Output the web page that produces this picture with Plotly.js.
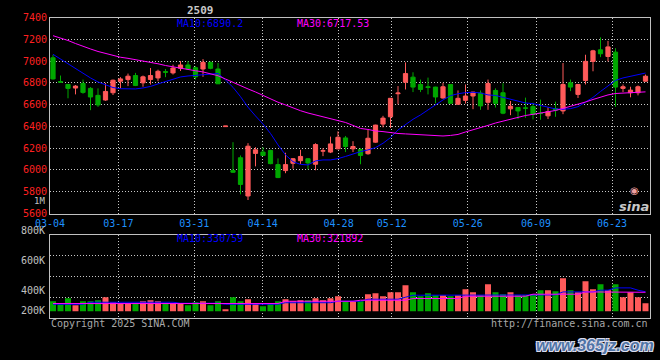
<!DOCTYPE html>
<html><head><meta charset="utf-8">
<script src="https://cdn.plot.ly/plotly-3.0.1.min.js"></script>
<style>html,body{margin:0;padding:0;background:#000;}#chart{width:660px;height:360px;}</style>
</head><body><div id="chart"></div>
<script>
// ---------- data ----------
const contract = '2509';
const dates = ['03-04','03-05','03-06','03-07','03-10','03-11','03-12','03-13','03-14','03-17','03-18','03-19','03-20','03-21','03-24','03-25','03-26','03-27','03-28','03-31',
'04-01','04-02','04-03','04-07','04-08','04-09','04-10','04-11','04-14','04-15','04-16','04-17','04-18','04-21','04-22','04-23','04-24','04-25','04-28','04-29','04-30',
'05-06','05-07','05-08','05-09','05-12','05-13','05-14','05-15','05-16','05-19','05-20','05-21','05-22','05-23','05-26','05-27','05-28','05-29','05-30',
'06-03','06-04','06-05','06-06','06-09','06-10','06-11','06-12','06-13','06-16','06-17','06-18','06-19','06-20','06-23','06-24','06-25','06-26','06-27','06-30'];
const open  = [7030,6812,6785,6752,6794,6749,6685,6642,6709,6815,6830,6867,6800,6830,6845,6903,6891,6933,6964,6939,
6927,6988,6927,6398,5994,6112,5761,6152,6164,6179,6049,5994,6061,6085,6103,6052,6173,6164,6194,6294,6194,
6188,6149,6255,6421,6488,6700,6806,6852,6785,6764,6761,6661,6785,6603,6639,6679,6706,6621,6730,
6709,6561,6573,6570,6582,6521,6497,6564,6542,6800,6694,6821,6997,7103,7042,7082,6749,6709,6709,6815];
const high  = [7058,6867,6790,6779,6830,6761,6749,6800,6830,6852,6885,6891,6867,6936,6921,6927,6967,7000,7000,6952,
7018,6995,6982,6403,6255,6133,6246,6209,6209,6185,6106,6158,6110,6185,6110,6245,6200,6306,6355,6312,6264,
6200,6367,6415,6497,6661,6770,6988,6897,6830,6848,6764,6800,6788,6730,6785,6718,6730,6830,6749,
6797,6633,6576,6664,6618,6646,6576,6627,6982,6830,6788,7058,7103,7218,7185,7118,6785,6764,6776,6876];
const low   = [6830,6800,6658,6694,6700,6549,6579,6635,6688,6749,6770,6770,6764,6785,6815,6852,6876,6909,6918,6830,
6855,6925,6791,6398,5973,5776,5724,6033,6130,6052,5925,5970,6012,6055,6006,5997,6127,6155,6190,6164,6164,
6052,6140,6250,6391,6385,6603,6739,6715,6715,6694,6612,6655,6606,6600,6610,6558,6552,6552,6573,
6512,6503,6467,6479,6464,6461,6467,6488,6512,6724,6661,6785,6906,7036,6997,6579,6715,6667,6685,6809];
const close = [6836,6806,6749,6770,6712,6670,6597,6721,6824,6836,6861,6776,6855,6867,6906,6897,6936,6964,6927,6855,
6988,6933,6791,6403,5979,5867,6218,6185,6133,6058,5930,6049,6103,6124,6064,6233,6176,6239,6300,6215,6215,
6133,6291,6412,6476,6658,6706,6885,6761,6739,6758,6670,6764,6612,6658,6679,6715,6588,6794,6612,
6521,6585,6542,6567,6509,6518,6536,6549,6785,6761,6785,6997,7094,7067,7130,6761,6764,6733,6764,6861];
const ma10 = [7062,7019,6973,6927,6886,6845,6808,6780,6757,6746,6744,6744,6753,6767,6790,6812,6835,6854,6863,6868,
6872,6877,6886,6826,6759,6673,6576,6496,6422,6335,6230,6138,6076,6051,6046,6083,6092,6092,6104,6124,
6147,6168,6184,6205,6245,6297,6367,6420,6465,6505,6551,6603,6643,6682,6700,6710,6713,6707,6689,6684,
6666,6647,6629,6615,6609,6592,6574,6560,6557,6563,6581,6620,6666,6721,6774,6822,6845,6858,6875,6890];
const ma30 = [7233,7214,7189,7161,7134,7111,7088,7070,7048,7035,7025,7014,7001,6989,6975,6959,6946,6932,6920,6911,
6900,6884,6865,6835,6803,6771,6744,6716,6684,6652,6622,6597,6569,6544,6523,6505,6491,6473,6454,6436,
6409,6381,6372,6358,6352,6340,6335,6331,6326,6321,6317,6312,6312,6317,6326,6349,6367,6386,6409,6431,
6450,6468,6487,6500,6511,6523,6530,6546,6565,6583,6601,6624,6647,6670,6689,6702,6706,6709,6713,6717];
const volume = [170000,114000,221000,102000,170000,170000,187000,238000,153000,131000,131000,141000,170000,187000,170000,141000,131000,131000,102000,153000,
170000,102000,170000,34000,238000,170000,204000,131000,85000,131000,170000,204000,170000,187000,187000,221000,187000,221000,255000,170000,170000,
170000,289000,306000,255000,323000,323000,442000,323000,255000,306000,272000,272000,255000,272000,374000,323000,272000,459000,323000,
289000,323000,272000,272000,289000,357000,357000,340000,561000,357000,323000,510000,374000,459000,357000,459000,238000,323000,238000,136000];
const volMa10 = [119000,119000,119000,119000,119000,153000,153000,153000,153000,153000,153000,153000,153000,153000,153000,153000,153000,136000,136000,136000,
136000,136000,136000,119000,119000,119000,119000,119000,119000,119000,119000,145000,145000,145000,145000,145000,145000,145000,170000,170000,170000,
170000,204000,204000,204000,204000,204000,238000,272000,272000,272000,272000,284000,284000,284000,284000,284000,284000,284000,284000,
284000,284000,284000,284000,277000,277000,277000,277000,328000,328000,328000,328000,328000,357000,357000,396000,396000,396000,357000,330759];
const volMa30 = [131000,131000,131000,131000,131000,131000,131000,131000,131000,131000,131000,131000,131000,131000,131000,131000,131000,131000,131000,131000,
131000,131000,131000,131000,131000,131000,131000,131000,131000,131000,131000,170000,170000,170000,170000,170000,170000,170000,170000,170000,170000,
187000,187000,187000,187000,187000,187000,187000,216000,216000,216000,216000,216000,216000,216000,255000,255000,255000,255000,255000,
255000,255000,255000,255000,289000,289000,289000,289000,289000,289000,289000,328000,328000,328000,328000,328000,328000,328000,325000,321892];
const dateTickLabels = ['03-04','03-17','03-31','04-14','04-28','05-12','05-26','06-09','06-23'];
const priceMa10Text = 'MA10:6890.2';
const priceMa30Text = 'MA30:6717.53';
const volMa10Text = 'MA10:330759';
const volMa30Text = 'MA30:321892';
const volAxisLabels = ['800K','600K','400K','200K'];
const extraPriceLabel = '1M';
const copyrightText = 'Copyright 2025 SINA.COM';
const sourceText = 'http://finance.sina.com.cn';
const watermarkText = 'www.365jz.com';

// ---------- styling ----------
const RED = '#ff5a5a', GREEN = '#00a800', BLUE = '#0000ff', MAG = '#ff00ff';
const GRID = '#c8c8c8', BORDER = '#c0c0c0', MONO = 'DejaVu Sans Mono';
const W = 660, H = 360, L = 50, R = 10;
const px = x => (x - L) / (W - L - R);
const py = y => 1 - y / H;

const xi = dates.map((d, i) => i);
const n = dates.length;
// gridline/label positions as the source spaces them (n-1 intervals across the plot)
const tickvals = dateTickLabels.map(l => dates.indexOf(l) * n / (n - 1) - 0.4);
const volColors = close.map((c, i) => c >= open[i] ? RED : GREEN);

const traces = [
  {type:'candlestick', x: xi, open, high, low, close, xaxis:'x', yaxis:'y',
   increasing:{line:{color:RED, width:1}, fillcolor:RED},
   decreasing:{line:{color:GREEN, width:1}, fillcolor:GREEN},
   whiskerwidth:0, hoverinfo:'skip'},
  {type:'scatter', mode:'lines', x: xi, y: ma10, line:{color:BLUE, width:1}, xaxis:'x', yaxis:'y', hoverinfo:'skip'},
  {type:'scatter', mode:'lines', x: xi, y: ma30, line:{color:MAG, width:1}, xaxis:'x', yaxis:'y', hoverinfo:'skip'},
  {type:'bar', x: xi, y: volume, marker:{color: volColors, line:{width:0}}, width:0.8, xaxis:'x2', yaxis:'y2', hoverinfo:'skip'},
  {type:'scatter', mode:'lines', x: xi, y: volMa10, line:{color:BLUE, width:1}, xaxis:'x2', yaxis:'y2', hoverinfo:'skip'},
  {type:'scatter', mode:'lines', x: xi, y: volMa30, line:{color:MAG, width:1}, xaxis:'x2', yaxis:'y2', hoverinfo:'skip'}
];

const axBase = {showgrid:true, gridcolor:GRID, gridwidth:1, griddash:'1px,2px', showline:true, mirror:true,
  linecolor:BORDER, linewidth:1, zeroline:false, ticks:'', fixedrange:true};

const f10 = c => ({family:MONO, size:10, color:c});
const ann = (text, x, y, xa, color, extra) => Object.assign({text, x:px(x), y:py(y), xref:'paper', yref:'paper',
  xanchor:xa, yanchor:'middle', showarrow:false, font:f10(color)}, extra || {});

const annotations = [
  ann(contract, 200, 10, 'center', '#c8c8c8', {font:{family:MONO, size:11, color:'#c8c8c8', weight:700}}),
  ann(priceMa10Text, 175, 23, 'left', BLUE),
  ann(priceMa30Text, 295, 23, 'left', MAG),
  ann(volMa10Text, 175, 238.5, 'left', BLUE),
  ann(volMa30Text, 295, 238.5, 'left', MAG),
  ann(extraPriceLabel, 47, 201, 'right', '#c0c0c0', {font:{family:MONO, size:9, color:'#c0c0c0'}}),
  ann(copyrightText, 49, 323.5, 'left', '#a8a8a8'),
  ann(sourceText, 650, 323.5, 'right', '#a8a8a8'),
  ann(watermarkText, 595, 345, 'center', '#4f74a6', {font:{family:'Liberation Sans', size:16, color:'#4f74a6', weight:700, style:'italic',
     shadow:'1px 1px 0 #dde, -1px -1px 0 #dde, 1px -1px 0 #dde, -1px 1px 0 #dde'}}),
  ann('sina', 634, 207, 'center', '#c8c8c8', {font:{family:'DejaVu Sans', size:13, color:'#c8c8c8', weight:700, style:'italic'}}),
  ann('◉', 634, 190, 'center', '#f0a0a0', {font:{family:'DejaVu Sans', size:10, color:'#f0a0a0'}})
];
const volLabelY = [230.7, 260.7, 290.7, 310.7];
volAxisLabels.forEach((t, k) => annotations.push(ann(t, 47, volLabelY[k], 'right', '#c0c0c0')));

const layout = {
  width: W, height: H, margin:{l:L, r:R, t:0, b:0, pad:0}, autosize:false,
  paper_bgcolor:'#000', plot_bgcolor:'#000', showlegend:false, boxgap:0.2, bargap:0.2, hovermode:false,
  xaxis: Object.assign({}, axBase, {domain:[0,1], range:[-0.4, n - 0.4], anchor:'y', tickmode:'array', tickvals,
     ticktext: dateTickLabels, tickfont: f10('#1e90ff'), rangeslider:{visible:false}}),
  yaxis: Object.assign({}, axBase, {domain:[py(213.5), py(17.5)], range:[5600, 7400], tick0:5600, dtick:200,
     tickfont: f10('#ff2020'), anchor:'x'}),
  xaxis2: Object.assign({}, axBase, {domain:[0,1], matches:'x', anchor:'y2', tickmode:'array', tickvals,
     showticklabels:false, rangeslider:{visible:false}}),
  yaxis2: Object.assign({}, axBase, {domain:[py(318.3), py(234.7)], range:[-119000, 1297000], tick0:-119000, dtick:354000,
     showticklabels:false, anchor:'x2'}),
  annotations
};

Plotly.newPlot('chart', traces, layout, {staticPlot:true, displayModeBar:false});
</script></body></html>
